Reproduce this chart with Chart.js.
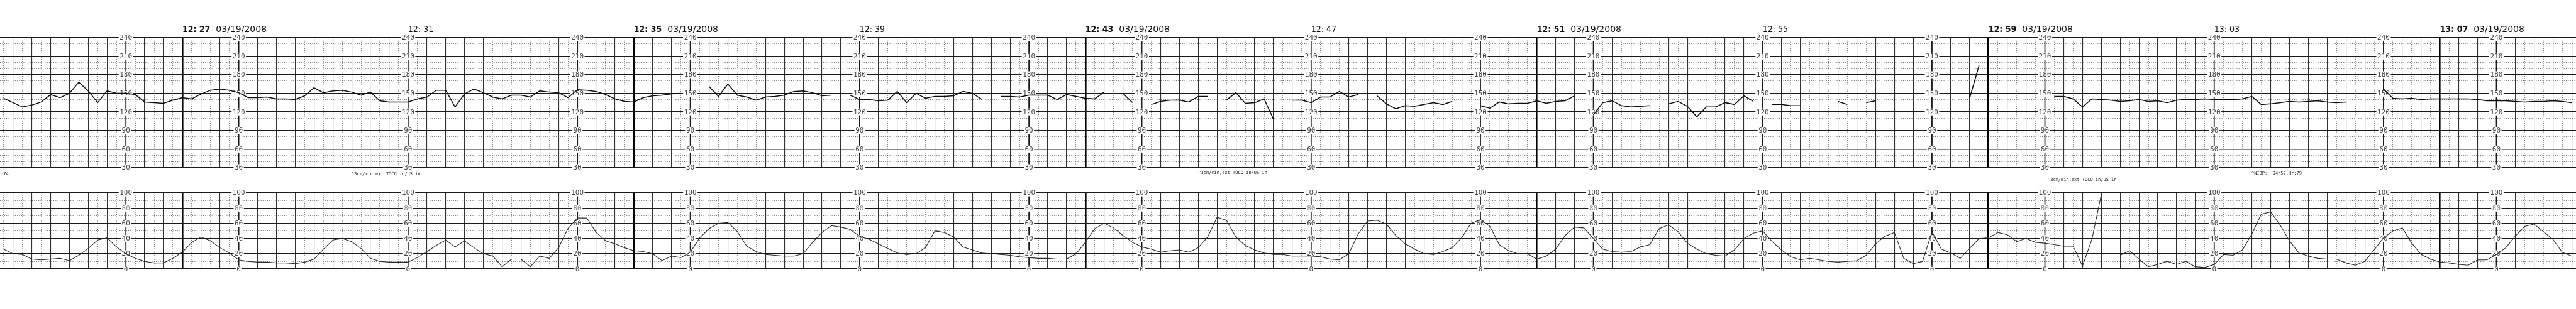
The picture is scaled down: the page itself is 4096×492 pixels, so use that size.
<!DOCTYPE html>
<html>
<head>
<meta charset="utf-8">
<script src="https://cdn.jsdelivr.net/npm/chart.js@4.4.1/dist/chart.umd.min.js"></script>
<style>
  html, body { margin: 0; padding: 0; background: #fff; }
  #wrap { position: relative; width: 4096px; height: 492px; overflow: hidden; background: #fff; }
  canvas { position: absolute; left: 0; }
</style>
</head>
<body>
<div id="wrap">
  <canvas id="fhr" width="4096" height="290" style="top:0"></canvas>
  <canvas id="toco" width="4096" height="202" style="top:290px"></canvas>
</div>
<script>
// one reading every 10 s; minutes are counted from 12:27
const T0 = -19 / 6;
const STEP = 1 / 6;
const X_MIN = -3.23, X_MAX = 42.41;

// fetal heart rate, bpm (null = signal loss)
const fhrValues = [
  142,135,128,131,136,148,143,150,168,154,135,154,
  150,150,148,136,135,134,139,143,141,149,155,157,
  155,151,143,143,144,141,141,140,146,159,151,154,
  155,152,147,152,138,136,136,136,141,144,155,155,
  128,149,157,151,144,141,147,147,144,154,152,151,
  143,156,155,153,148,141,137,136,143,146,147,149,
  150,null,null,161,145,165,147,144,139,144,145,147,
  153,154,151,146,147,null,147,140,140,138,139,153,
  135,150,142,145,145,146,153,150,140,null,145,145,
  144,147,147,147,140,148,145,142,141,152,null,150,
  135,null,132,137,139,139,136,145,145,null,139,151,
  134,135,141,108,null,139,139,135,144,144,153,144,
  148,null,146,133,125,130,129,132,135,132,137,null,
  null,130,126,136,133,134,134,138,134,137,138,146,
  null,115,135,138,130,128,129,130,null,133,137,129,
  112,128,128,135,132,146,137,null,132,132,130,130,
  null,128,null,137,132,null,135,138,null,null,null,null,
  null,null,188,null,null,142,195,null,null,null,null,null,
  null,null,145,145,141,128,141,140,139,137,138,140,
  137,138,135,139,140,140,141,140,140,140,141,145,
  132,133,135,137,136,137,138,136,135,136,null,null,
  null,157,142,141,142,140,141,141,141,141,141,140,
  138,138,138,137,136,137,137,138,137,135
];

// uterine activity (TOCO)
const tocoValues = [
  26,20,19,13,12,13,14,11,18,27,38,41,
  29,20,14,10,8,8,14,22,35,42,37,28,
  21,12,10,9,9,8,8,7,9,13,26,38,
  40,36,27,14,10,9,9,9,15,23,31,38,
  29,37,28,20,17,3,13,13,3,17,14,28,
  53,67,67,48,37,33,28,24,23,20,11,17,
  15,22,41,53,60,61,49,30,23,19,18,17,
  17,20,35,48,57,55,52,43,39,33,27,21,
  19,20,28,50,48,42,29,25,21,20,19,18,
  16,15,14,14,13,13,20,35,53,60,54,44,
  35,29,26,22,24,25,22,28,42,68,64,42,
  31,25,21,19,19,17,17,17,16,13,12,20,
  46,63,64,59,44,33,26,20,19,23,28,41,
  60,65,56,32,24,20,20,13,17,26,44,55,
  54,40,26,23,22,23,29,32,53,58,49,34,
  26,20,18,17,25,40,47,50,36,25,16,12,
  14,12,10,9,10,11,18,33,43,48,14,7,
  10,49,26,21,14,27,40,41,48,45,36,40,
  35,34,32,30,30,4,39,98,null,18,24,13,
  3,6,10,6,10,3,2,6,19,18,25,46,
  72,75,58,37,21,17,14,13,13,8,5,10,
  25,41,50,54,34,19,13,9,8,6,5,12,
  12,19,28,43,56,59,49,39,22,17
];

const fhrTicks = [30, 60, 90, 120, 150, 180, 210, 240];
const tocoTicks = [0, 20, 40, 60, 80, 100];
const scaleColumns = [-1, 1, 4, 7, 9, 12, 15, 17, 20, 23, 25, 28, 31, 33, 36, 39, 41];
const pageStarts = [0, 8, 16, 24, 32, 40];
const timeMinutes = [0, 4, 8, 12, 16, 20, 24, 28, 32, 36, 40];
const timeLabels = ['12: 27', '12: 31', '12: 35', '12: 39', '12: 43', '12: 47', '12: 51', '12: 55', '12: 59', '13: 03', '13: 07'];
const dateLabel = '03/19/2008';
const noteMinutes = [-3.22, 3, 18, 33.05, 36.66];
const noteTexts = [':74', '^3cm/min,ext TOCO in/US in', '^3cm/min,ext TOCO in/US in', '^3cm/min,ext TOCO.in/US in', '^NIBP:  94/52,Hr:79'];
const noteRows = [276.8, 276.8, 275.5, 286.5, 276];

const toPoints = vals => vals.map((v, i) => ({ x: T0 + i * STEP, y: v }));

function tickList(min, max, step, keep) {
  const out = [];
  for (let k = Math.ceil(min / step - 1e-9); k * step <= max + 1e-9; k++) {
    if (keep(k)) out.push({ value: k * step });
  }
  return out;
}

const isPage = v => pageStarts.some(p => Math.abs(p - v) < 1e-6);
const noSize = s => { if (s.isHorizontal()) s.height = 0; else s.width = 0; };

function gridScales(yMin, yMax, yMajor, yMinorStep) {
  return {
    xm: {
      type: 'linear', min: X_MIN, max: X_MAX, position: 'bottom', z: -1,
      ticks: { display: false },
      border: { display: false, dash: [1, 2.4] },
      grid: { drawTicks: false, color: '#6a6a6a', lineWidth: 1 },
      afterBuildTicks: s => { s.ticks = tickList(X_MIN, X_MAX, 1 / 6, k => k % 2 !== 0); },
      afterFit: noSize
    },
    ym: {
      type: 'linear', min: yMin, max: yMax, position: 'left', z: -1,
      ticks: { display: false },
      border: { display: false, dash: [1, 2.4] },
      grid: { drawTicks: false, color: '#6a6a6a', lineWidth: 1 },
      afterBuildTicks: s => {
        s.ticks = tickList(yMin, yMax, yMinorStep, k => !yMajor.includes(Math.round(k * yMinorStep)));
      },
      afterFit: noSize
    },
    x: {
      type: 'linear', min: X_MIN, max: X_MAX, position: 'bottom',
      ticks: { display: false },
      border: { display: false },
      grid: {
        drawTicks: false,
        color: c => isPage(c.tick.value) ? '#000' : '#333',
        lineWidth: c => isPage(c.tick.value) ? 2.6 : 1.1
      },
      afterBuildTicks: s => { s.ticks = tickList(X_MIN, X_MAX, 1 / 3, () => true); },
      afterFit: noSize
    },
    y: {
      type: 'linear', min: yMin, max: yMax, position: 'left',
      ticks: { display: false },
      border: { display: false },
      grid: { drawTicks: false, color: '#1a1a1a', lineWidth: 1.6 },
      afterBuildTicks: s => { s.ticks = yMajor.map(v => ({ value: v })); },
      afterFit: noSize
    }
  };
}

// y-scale numbers printed down the paper every few minutes
function columnsPlugin(values, faint) {
  return {
    id: 'columns',
    beforeDatasetsDraw(chart) {
      const { ctx, chartArea: a, scales } = chart;
      ctx.save();
      ctx.font = '11px "DejaVu Sans Mono"';
      ctx.textAlign = 'center';
      ctx.textBaseline = 'middle';
      scaleColumns.forEach(m => {
        const x = scales.x.getPixelForValue(m);
        ctx.strokeStyle = '#1a1a1a';
        ctx.lineWidth = 1.7;
        ctx.beginPath();
        ctx.moveTo(x, a.top);
        ctx.lineTo(x, a.bottom);
        ctx.stroke();
        values.forEach(v => {
          const y = scales.y.getPixelForValue(v);
          const t = String(v);
          const w = ctx.measureText(t).width + 3;
          ctx.fillStyle = '#fff';
          ctx.fillRect(x - w / 2, y - 5.5, w, 11);
          ctx.fillStyle = faint.includes(v) ? '#8a8a8a' : '#444';
          ctx.fillText(t, x, y + 0.5);
        });
      });
      ctx.restore();
    }
  };
}

const headerPlugin = {
  id: 'header',
  afterDraw(chart) {
    const { ctx, scales } = chart;
    ctx.save();
    ctx.textBaseline = 'alphabetic';
    ctx.textAlign = 'left';
    timeMinutes.forEach((m, i) => {
      const x = scales.x.getPixelForValue(m);
      const page = isPage(m);
      ctx.fillStyle = '#111';
      ctx.font = (page ? 'bold ' : '') + '14px "DejaVu Sans Condensed"';
      ctx.fillText(timeLabels[i], x, 50.8);
      if (page) {
        const w = ctx.measureText(timeLabels[i]).width;
        ctx.font = '14px "DejaVu Sans"';
        ctx.fillText(dateLabel, x + w + 9, 50.8);
      }
    });
    ctx.font = '7px "DejaVu Sans Mono"';
    ctx.textBaseline = 'middle';
    ctx.fillStyle = '#222';
    noteMinutes.forEach((m, i) => {
      const x = Math.max(1, scales.x.getPixelForValue(m));
      ctx.fillText(noteTexts[i], x, noteRows[i]);
    });
    ctx.restore();
  }
};

const baseOptions = {
  responsive: false,
  animation: false,
  events: [],
  plugins: { legend: { display: false }, tooltip: { enabled: false } }
};

new Chart(document.getElementById('fhr'), {
  type: 'line',
  data: {
    datasets: [{
      data: toPoints(fhrValues),
      borderColor: '#0c0c0c',
      borderWidth: 1.5,
      pointRadius: 0,
      spanGaps: false,
      tension: 0
    }]
  },
  options: {
    ...baseOptions,
    layout: { padding: { top: 59.8, bottom: 23, left: 0, right: 0 } },
    scales: gridScales(30, 240, fhrTicks, 10)
  },
  plugins: [columnsPlugin(fhrTicks, []), headerPlugin]
});

new Chart(document.getElementById('toco'), {
  type: 'line',
  data: {
    datasets: [{
      data: toPoints(tocoValues),
      borderColor: '#2a2a2a',
      borderWidth: 1.1,
      pointRadius: 0,
      spanGaps: false,
      tension: 0
    }]
  },
  options: {
    ...baseOptions,
    layout: { padding: { top: 17.1, bottom: 63.7, left: 0, right: 0 } },
    scales: gridScales(0, 100, tocoTicks, 10)
  },
  plugins: [columnsPlugin(tocoTicks, [80])]
});
</script>
</body>
</html>
